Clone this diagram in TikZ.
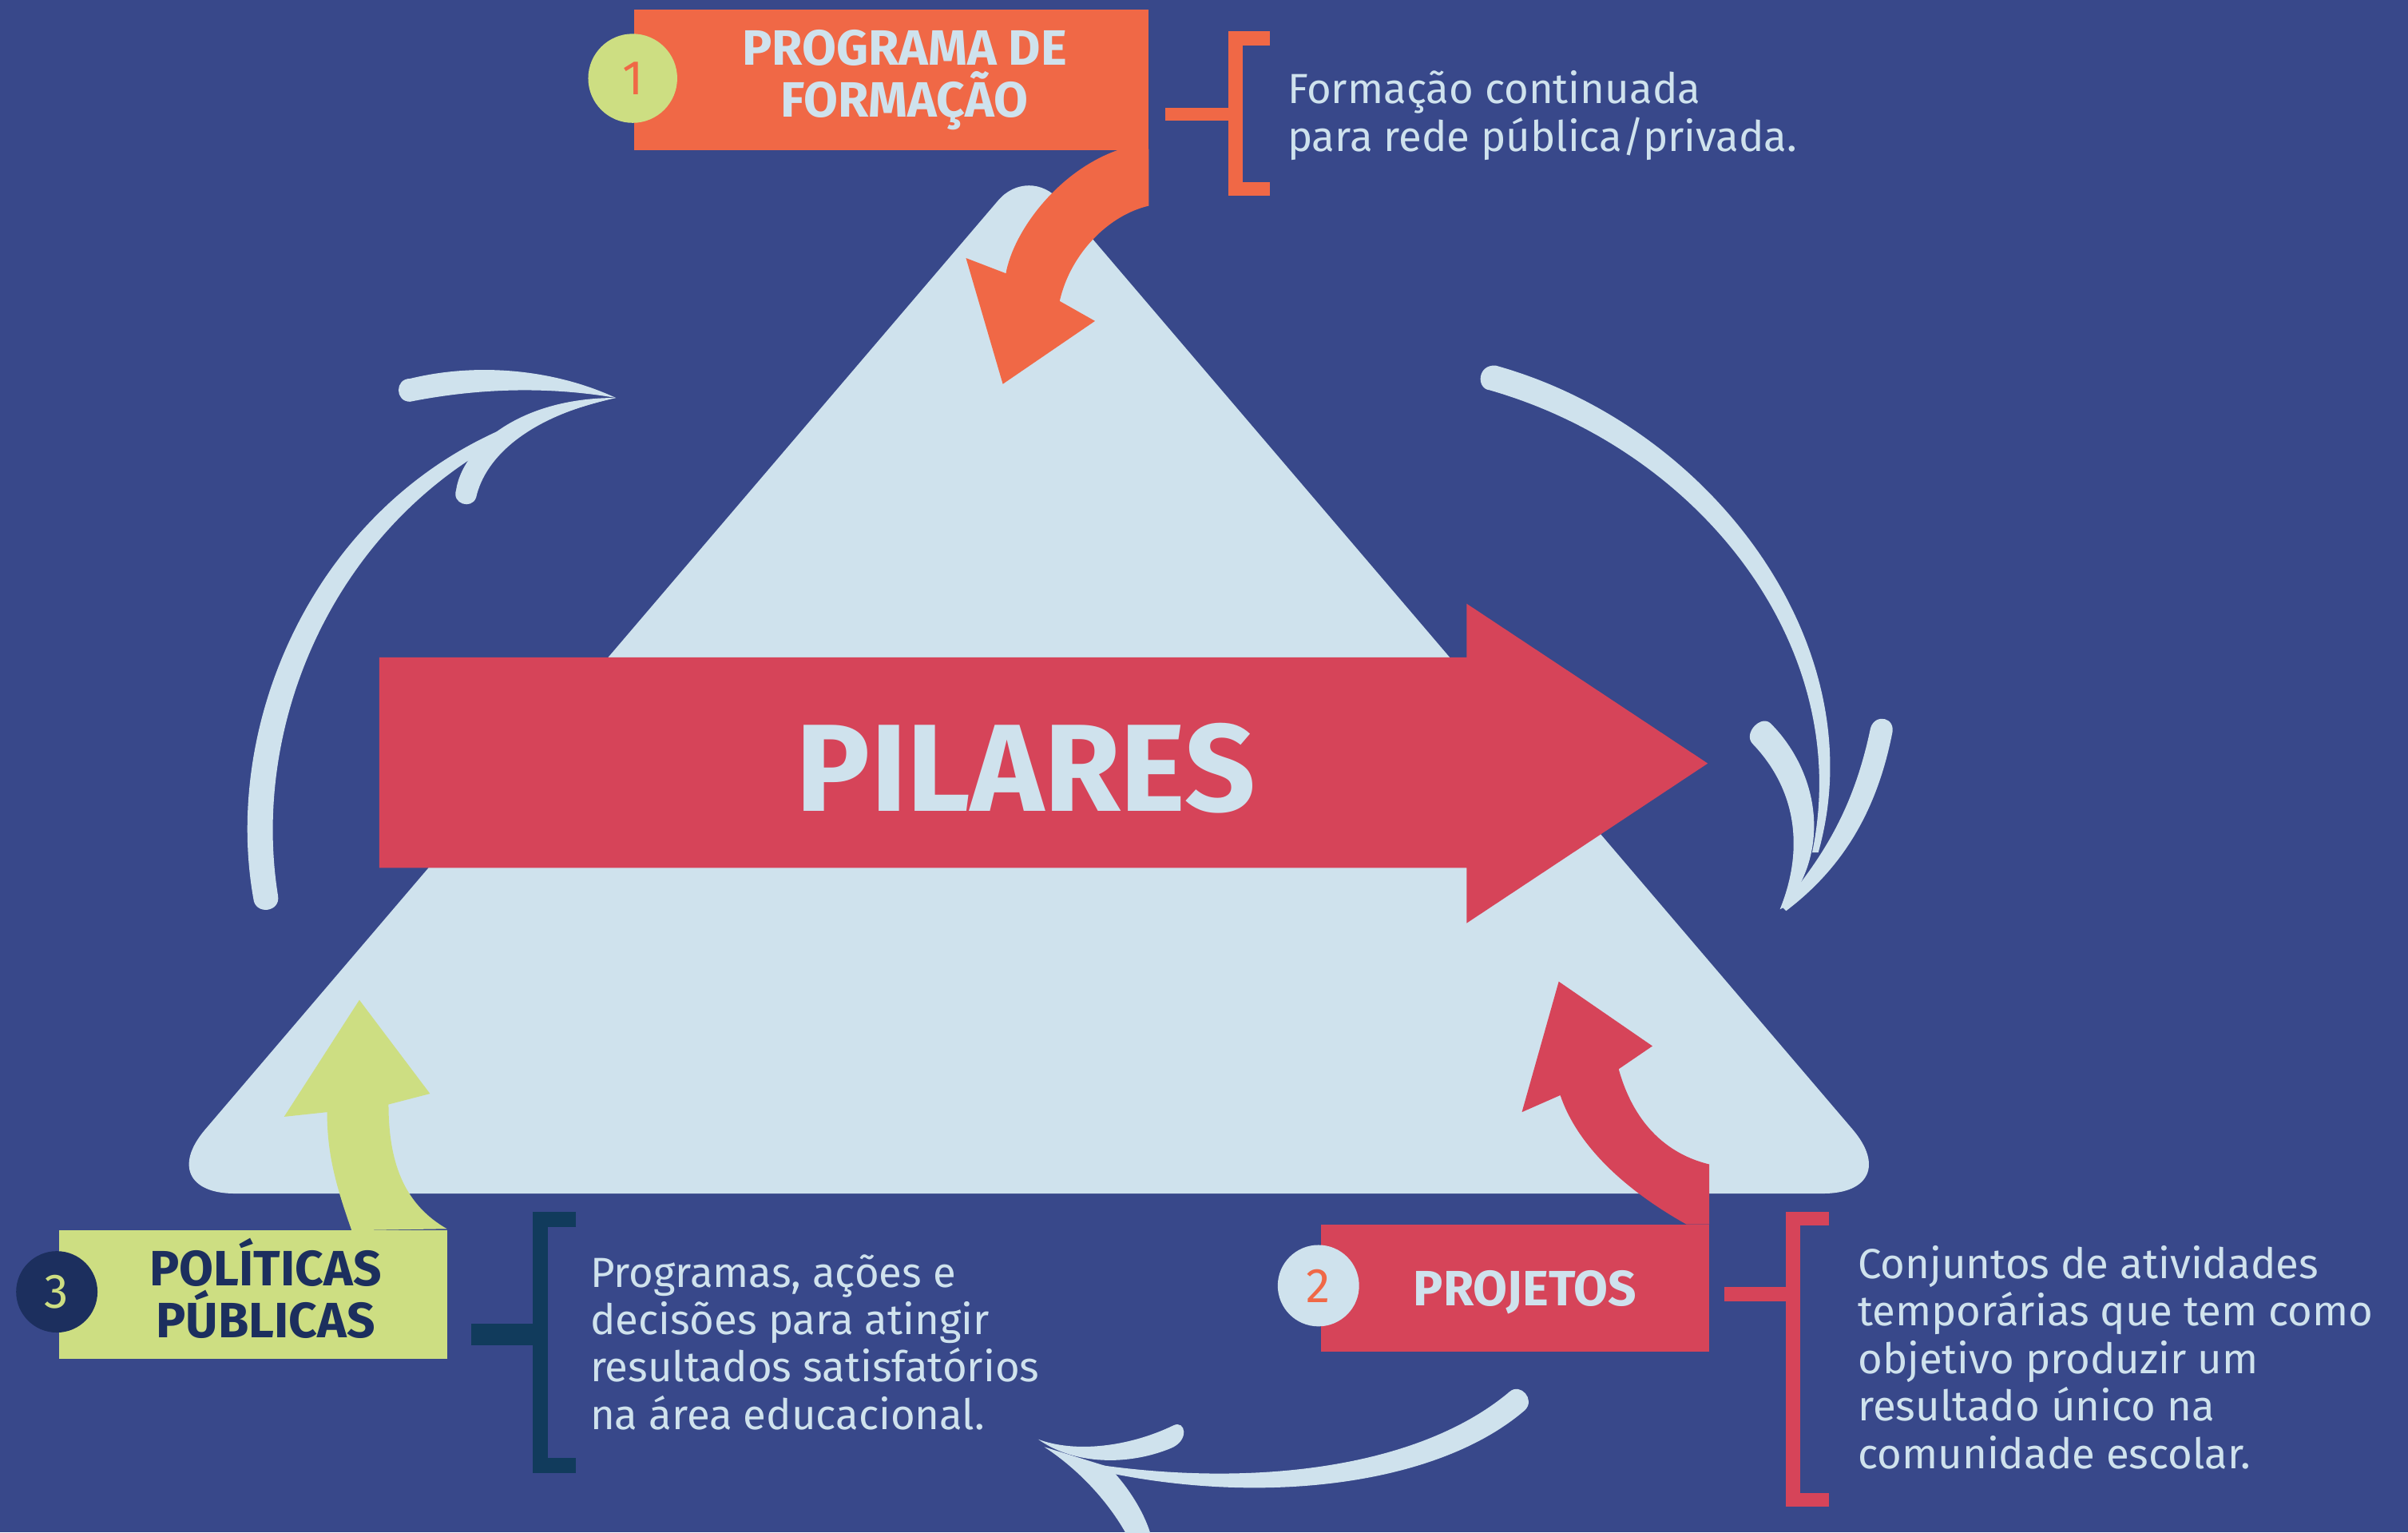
\documentclass[tikz,border=0pt]{standalone}
\usepackage{fontspec}
\setmainfont{Fira Sans}
\definecolor{bgc}{HTML}{38488A}
\definecolor{lightc}{HTML}{CFE2ED}
\definecolor{redc}{HTML}{D64459}
\definecolor{orangec}{HTML}{F06846}
\definecolor{greenc}{HTML}{CDDE82}
\definecolor{navyc}{HTML}{1C2F5E}
\definecolor{tealc}{HTML}{113B5C}
\newcommand\bodyfs{\fontsize{15.6pt}{17.6pt}\selectfont}
\newcommand\titlefs{\fontsize{18.4pt}{19.3pt}\selectfont\bfseries}
\newcommand\numfs{\fontsize{18pt}{20pt}\selectfont}
\tikzset{
  bodytext/.style={text=lightc, font=\bodyfs, align=left, inner sep=0pt},
  boxtitle/.style={font=\titlefs, align=center, inner sep=0pt},
  numcircle/.style={circle, inner sep=0pt, minimum size=1.1cm, font=\numfs},
  boxshape/.style={rectangle, inner sep=0pt},
  brk/.style={line width=0.18cm, line join=miter},
}
\begin{document}
\begin{tikzpicture}[x=0.02cm,y=-0.02cm]
\fill[bgc] (0,0) rectangle (1568,997.5);
\useasboundingbox (0,0) rectangle (1568,997.5);

% triangle
\fill[lightc] (649.9,130.6) -- (133.7,735.2) .. controls (113.9,758.3) and (122.5,777) .. (153,777)
  -- (1187,777) .. controls (1217.5,777) and (1226.1,758.3) .. (1206.3,735.2)
  -- (690.1,130.6) .. controls (679,117.5) and (661,117.5) .. (649.9,130.6) -- cycle;

% PILARES arrow
\fill[redc] (247,428) -- (955,428) -- (955,393) -- (1112,497) -- (955,601) -- (955,565) -- (247,565) -- cycle;
\node[text=lightc, font=\fontsize{46pt}{50pt}\selectfont\bfseries, inner sep=0pt, anchor=base] (pil) at (668,528) {PILARES};

% orange curved arrow
\fill[orangec] (748,97) -- (748,134) .. controls (722,140) and (697,165) .. (690,196) -- (713,209) -- (653,250)
  -- (629,168) -- (655,178) .. controls (660,150) and (690,110) .. (730,97) -- cycle;
% green curved arrow
\fill[greenc] (229,801) .. controls (218,770) and (213,750) .. (213,724) -- (185,727) -- (234,651) -- (280,712)
  -- (253,719) .. controls (253,760) and (265,785) .. (291,800) -- cycle;
% red curved arrow
\fill[redc] (1098,797) .. controls (1050,770) and (1025,740) .. (1016,713) -- (991,724) -- (1015,639) -- (1076,681)
  -- (1054,696) .. controls (1062,725) and (1080,750) .. (1113,758) -- (1113,797) -- cycle;

% light cycle arrows: left
\fill[lightc] (165,585) .. controls (141,450) and (228,282) .. (401,259)
  .. controls (238,296) and (160,452) .. (181,583) .. controls (183,594) and (166,596) .. (165,585) -- cycle;
\fill[lightc] (267,246.5) .. controls (310,236) and (360,240) .. (401,259)
  .. controls (360,252) and (315,252) .. (267,261.5) .. controls (257,261.5) and (257,246.5) .. (267,246.5) -- cycle;
\fill[lightc] (297,319) .. controls (301,292) and (337,259) .. (401,259)
  .. controls (345,271) and (316,297) .. (310,324) .. controls (307,332) and (294,328) .. (297,319) -- cycle;
% right
\fill[lightc] (974,238) .. controls (1114,277) and (1222,420) .. (1184,555)
  -- (1180,555) .. controls (1208,420) and (1106,293) .. (970,254) .. controls (961,253) and (962,237) .. (974,238) -- cycle;
\fill[lightc] (1141,484) .. controls (1168,512) and (1176,550) .. (1159,592)
  -- (1163,590) .. controls (1194,550) and (1182,500) .. (1153,471) .. controls (1147,465) and (1135,477) .. (1141,484) -- cycle;
\fill[lightc] (1232,478) .. controls (1222,528) and (1200,565) .. (1163,593)
  -- (1160,590) .. controls (1190,555) and (1208,522) .. (1218,474) .. controls (1221,464) and (1235,467) .. (1232,478) -- cycle;
% bottom
\fill[lightc] (983,906) .. controls (925,955) and (820,968) .. (718,954)
  -- (718,958) .. controls (820,980) and (935,968) .. (993,918) .. controls (1000,911) and (990,900) .. (983,906) -- cycle;
\fill[lightc] (676,937) .. controls (700,946) and (735,942) .. (764,928)
  .. controls (772,924) and (775,938) .. (762,943) .. controls (735,954) and (700,954) .. (676,937) -- cycle;
\fill[lightc] (680,942) .. controls (700,955) and (720,975) .. (733,998) -- (749,998)
  .. controls (745,985) and (735,968) .. (722,955) -- cycle;

% boxes
\node[boxshape, fill=orangec, minimum width=6.7cm, minimum height=1.84cm] (box1) at (580.5,52) {};
\node[boxshape, fill=redc, minimum width=5.06cm, minimum height=1.66cm] (box2) at (986.5,838.5) {};
\node[boxshape, fill=greenc, minimum width=5.05cm, minimum height=1.67cm] (box3) at (164.75,842.75) {};

\node[numcircle, fill=greenc, text=orangec, minimum size=1.16cm] (c1) at (412,51) {1};
\node[numcircle, fill=lightc, text=orangec, minimum size=1.06cm] (c2) at (858.5,837) {2};
\node[numcircle, fill=navyc, text=greenc, minimum size=1.06cm] (c3) at (37,841) {3};

\node[boxtitle, text=lightc, anchor=base] (ti1) at (589,76.3) {PROGRAMA DE\\FORMAÇÃO};
\node[boxtitle, text=lightc, anchor=base] (ti2) at (993,850) {PROJETOS};
\node[boxtitle, text=navyc, anchor=base] (ti3) at (173,871) {POLÍTICAS\\PÚBLICAS};

% brackets
\coordinate (b1s) at (759,74.25);
\coordinate (b1m) at (804.5,74.25);
\draw[orangec, brk] (827,25) -- (804.5,25) -- (804.5,123) -- (827,123);
\draw[orangec, line width=0.17cm] (b1s) -- (b1m);

\coordinate (b2s) at (1123,842.5);
\coordinate (b2m) at (1167.5,842.5);
\draw[redc, brk] (1191,793.5) -- (1167.5,793.5) -- (1167.5,976.5) -- (1191,976.5);
\draw[redc, line width=0.18cm] (b2s) -- (b2m);

\coordinate (b3s) at (307,869);
\coordinate (b3m) at (352,869);
\draw[tealc, brk, line width=0.2cm] (375,794) -- (352,794) -- (352,954) -- (375,954);
\draw[tealc, line width=0.28cm] (b3s) -- (b3m);

% descriptions
\node[bodytext, anchor=base west] (d1) at (838,98.5) {Formação continuada\\para rede pública/privada.};
\node[bodytext, anchor=base west] (d2) at (1209.5,956) {Conjuntos de atividades\\temporárias que tem como\\objetivo produzir um\\resultado único na\\comunidade escolar.};
\node[bodytext, anchor=base west] (d3) at (384,930.6) {Programas, ações e\\decisões para atingir\\resultados satisfatórios\\na área educacional.};
\end{tikzpicture}
\end{document}
